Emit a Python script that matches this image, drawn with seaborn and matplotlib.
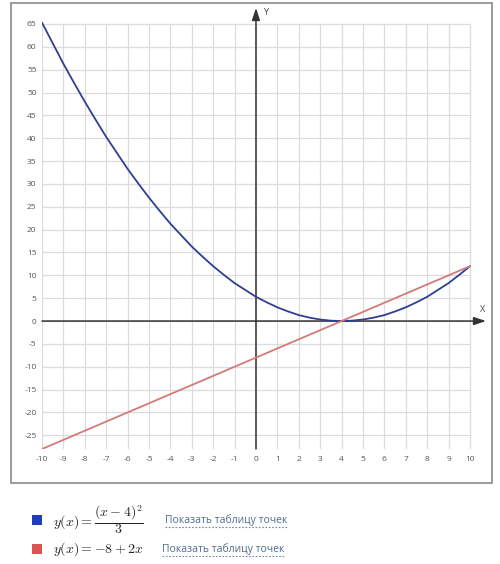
"""
plot.py — графики y=(x-4)^2/3 и y=-8+2x
"""

import matplotlib
matplotlib.use("Agg")
import matplotlib.pyplot as plt
from matplotlib.patches import Rectangle
from matplotlib.lines import Line2D
import seaborn as sns
import pandas as pd


# ─────────────────────────────────────────────
# ДАННЫЕ
# ─────────────────────────────────────────────
X_PARABOLA = [-10, -9.5, -9, -8.5, -8, -7.5, -7, -6.5, -6, -5.5, -5, -4.5,
              -4, -3.5, -3, -2.5, -2, -1.5, -1, -0.5, 0, 0.5, 1, 1.5, 2, 2.5,
              3, 3.5, 4, 4.5, 5, 5.5, 6, 6.5, 7, 7.5, 8, 8.5, 9, 9.5, 10]
Y_PARABOLA = [65.3, 60.8, 56.3, 52.1, 48.0, 44.1, 40.3, 36.8, 33.3, 30.1, 27.0, 24.1,
              21.3, 18.8, 16.3, 14.1, 12.0, 10.1, 8.3, 6.8, 5.3, 4.1, 3.0, 2.1, 1.3, 0.75,
              0.33, 0.08, 0.0, 0.08, 0.33, 0.75, 1.3, 2.1, 3.0, 4.1, 5.3, 6.8, 8.3, 10.1, 12.0]

X_RECTA = [-10, 10]
Y_RECTA = [-28, 12]

X_TICKS = list(range(-10, 11))
Y_TICKS = list(range(-25, 70, 5))

LEYENDA = [r"$y(x) = \dfrac{(x-4)^2}{3}$", r"$y(x) = -8 + 2x$"]
ENLACE = "Показать таблицу точек"

AZUL = "#2e3f94"
ROJO = "#d47a78"
GRIS_GRID = "#dcdcdc"

W, H = 500, 564


def px(x, y):
    """пиксели -> координаты фигуры"""
    return x / W, 1 - y / H


sns.set_theme(style="white")
plt.rcParams["font.family"] = ["Open Sans", "DejaVu Sans"]
plt.rcParams["mathtext.fontset"] = "cm"
plt.rcParams["axes.unicode_minus"] = False

fig = plt.figure(figsize=(W / 100, H / 100), dpi=100)

# рамка вокруг графика
fig.patches.append(Rectangle(px(11, 483), 481 / W, 480 / H, transform=fig.transFigure,
                             fill=False, edgecolor="#8a8a8a", linewidth=1.2))

# оси: x от -10 (px 42) до 10.75 (px 486), y от -28 (px 449) до 68.5 (px 8)
left, bottom = px(42, 449)
ax = fig.add_axes([left, bottom, (486 - 42) / W, (449 - 8) / H])
ax.set_xlim(-10, 10.75)
ax.set_ylim(-28, 68.5)
for s in ax.spines.values():
    s.set_visible(False)

# сетка
ax.vlines(X_TICKS, -28, 65, color=GRIS_GRID, linewidth=0.9, zorder=0)
ax.hlines(Y_TICKS, -10, 10, color=GRIS_GRID, linewidth=0.9, zorder=0)

# оси со стрелками
ax.annotate("", xy=(10.75, 0), xytext=(-10, 0),
            arrowprops=dict(arrowstyle="-|>,head_length=0.6,head_width=0.2",
                            color="#333333", lw=1.1, shrinkA=0, shrinkB=0))
ax.annotate("", xy=(0, 68.5), xytext=(0, -28),
            arrowprops=dict(arrowstyle="-|>,head_length=0.6,head_width=0.2",
                            color="#333333", lw=1.1, shrinkA=0, shrinkB=0))
ax.text(10.6, 1.6, "X", fontsize=6.5, color="#444444", ha="center", va="bottom")
ax.text(0.35, 68.5, "Y", fontsize=6.5, color="#444444", ha="left", va="top")

# кривые
df_par = pd.DataFrame({"x": X_PARABOLA, "y": Y_PARABOLA})
df_rec = pd.DataFrame({"x": X_RECTA, "y": Y_RECTA})
sns.lineplot(data=df_par, x="x", y="y", ax=ax, color=AZUL, linewidth=1.3,
             sort=False, estimator=None, zorder=3)
sns.lineplot(data=df_rec, x="x", y="y", ax=ax, color=ROJO, linewidth=1.3,
             sort=False, estimator=None, zorder=3)

ax.set_xlabel("")
ax.set_ylabel("")
ax.set_xticks(X_TICKS)
ax.set_yticks(Y_TICKS)
ax.tick_params(length=0, labelsize=6, labelcolor="#555555")
ax.tick_params(axis="x", pad=5)
ax.tick_params(axis="y", pad=4)

# легенда под графиком
for i, formula in enumerate(LEYENDA):
    yc = 520 + i * 29
    sq = "#1f3dbf" if i == 0 else "#d9534f"
    fig.patches.append(Rectangle(px(32, yc + 5), 10 / W, 10 / H, transform=fig.transFigure,
                                 facecolor=sq, edgecolor="none"))
    fig.text(*px(53, yc), formula, fontsize=10, color="#222222", va="center", ha="left")
    x0 = 165 if i == 0 else 162
    fig.text(*px(x0, yc), ENLACE, fontsize=7.5, color="#4f6d8f", va="center", ha="left")
    fig.lines.append(Line2D([x0 / W, (x0 + 122) / W], [1 - (yc + 7) / H] * 2,
                            transform=fig.transFigure, color="#6f8aa8",
                            linewidth=0.8, linestyle=(0, (1.5, 1.5))))

fig.savefig("out.png", dpi=100)
plt.close(fig)
